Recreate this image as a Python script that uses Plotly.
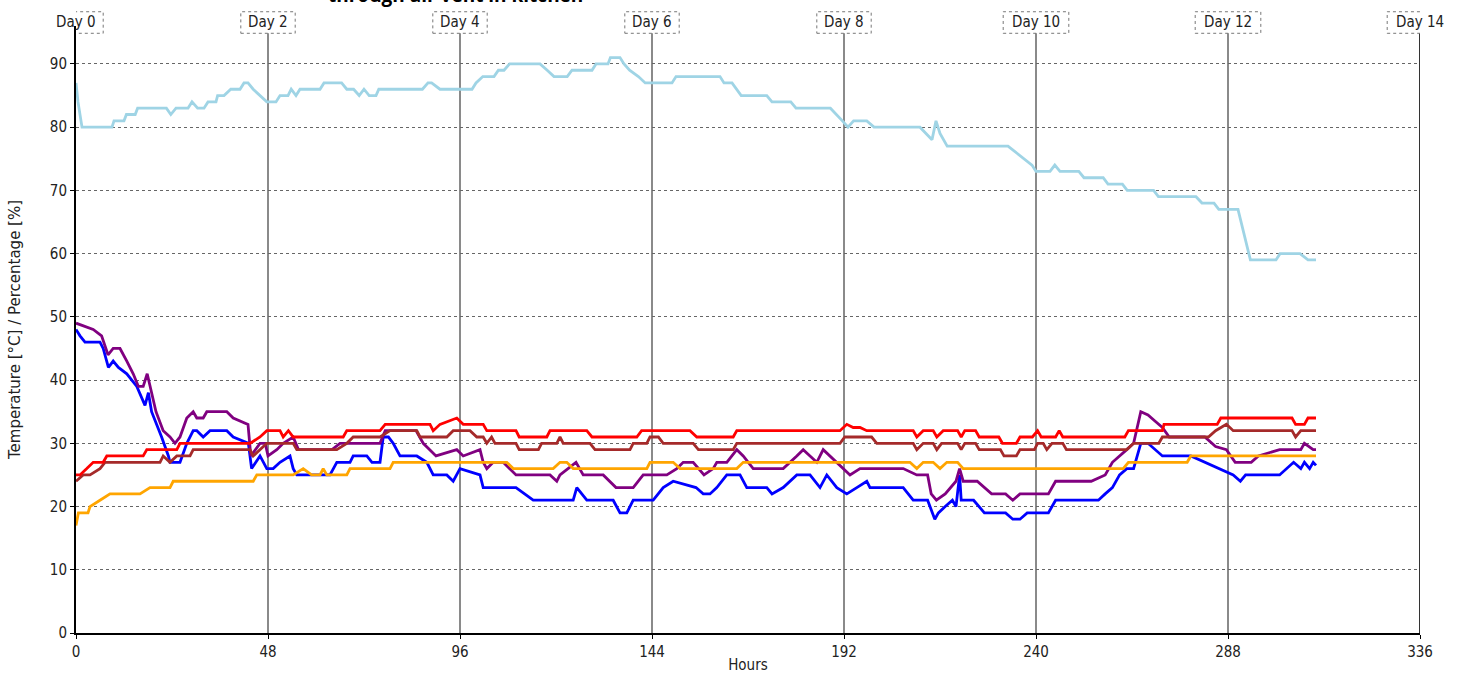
import plotly.graph_objects as go

# ---------------- data (hours, values) ----------------
rh_hours = [0, 0.5, 1.5, 9, 9.5, 12, 12.6, 14.8, 15.4, 22.6, 23.7, 25, 28, 29, 30.4, 32, 33, 35, 35.4, 37, 38.7, 41, 42, 43,
            44.3, 46, 47.7, 50, 51, 53, 53.8, 55, 56, 61, 62, 66.4, 67.7, 69.4, 70.8, 72, 73.3, 75, 75.7, 86.6, 88, 88.9,
            91, 99, 100, 101.7, 104.5, 105.6, 107, 108.4, 116, 117.8, 119.5, 122.8, 124, 129, 130, 133, 133.6, 136, 137,
            138.4, 140.6, 142.3, 149, 150, 161, 162, 164, 166.3, 172.7, 174, 178.7, 180, 188.6, 191.6, 193, 194.4, 197.7,
            199.5, 211, 212.5, 214, 215, 216, 217.8, 233, 239, 240, 243.5, 244.7, 246, 250.7, 252, 256.8, 258, 261.6,
            262.8, 269.4, 270.6, 280, 281.5, 284.5, 285.7, 290.5, 293.6, 300, 301, 306, 308, 310]
rh_values = [87, 84, 80, 80, 81, 81, 82, 82, 83, 83, 82, 83, 83, 84, 83, 83, 84, 84, 85, 85, 86, 86, 87, 87,
             86, 85, 84, 84, 85, 85, 86, 85, 86, 86, 87, 87, 86, 86, 85, 86, 85, 85, 86, 86, 87, 87,
             86, 86, 87, 88, 88, 89, 89, 90, 90, 89, 88, 88, 89, 89, 90, 90, 91, 91, 90,
             89, 88, 87, 87, 88, 88, 87, 87, 85, 85, 84, 84, 83, 83, 81, 80, 81, 81,
             80, 80, 79, 78, 81, 79, 77, 77, 74, 73, 73, 74, 73, 73, 72, 72, 71, 71,
             70, 70, 69, 69, 68, 68, 67, 67, 59, 59, 60, 60, 59, 59]

blue_hours = [0, 1, 2.25, 6, 6.8, 8.1, 9.3, 10.6, 12.7, 15.2, 17.25, 18.1, 18.9, 20.2, 21.4, 23.1, 23.5, 26, 27.7, 29.3,
              30.2, 31.8, 33.5, 37.7, 39.3, 43.1, 43.9, 46, 47.7, 49.3, 51, 53.5, 54.3, 55.2, 63.5, 65.2, 68.5, 69.3,
              72.7, 74, 76, 76.8, 78.1, 79.3, 81, 85.2, 87.7, 89.3, 92.7, 94.3, 96, 101, 101.8, 110, 114.3, 124.3,
              125.2, 127.7, 134.3, 136, 137.7, 139.3, 141.8, 144.3, 146.8, 149.3, 155, 156.8, 158.5, 160.2, 162.7,
              166, 167.7, 172.7, 174, 176.8, 180.2, 183.5, 186, 187.7, 190.2, 192.7, 195.2, 197.7, 198.5, 206.8,
              209.3, 212.9, 214.7, 215.6, 217.3, 219.1, 220, 220.9, 221.3, 224.4, 227.1, 232.4, 234.2, 236, 237.8,
              243.1, 244.9, 255.6, 257.3, 259.1, 260.9, 262.7, 264.4, 266.2, 268, 269.8, 271.6, 278.7, 282.2, 285.8,
              289.3, 291.1, 292.4, 300.9, 302.7, 304.4, 306.2, 307.1, 308.4, 309.3, 310]
blue_values = [48, 47, 46, 46, 45, 42, 43, 42, 41, 39, 36, 38, 35, 33, 31, 28, 27, 27, 30, 32,
               32, 31, 32, 32, 31, 30, 26, 28, 26, 26, 27, 28, 26, 25, 25, 27, 27, 28,
               28, 27, 27, 31, 31, 30, 28, 28, 27, 25, 25, 24, 26, 25, 23, 23, 21, 21,
               23, 21, 21, 19, 19, 21, 21, 21, 23, 24, 23, 22, 22, 23, 25,
               25, 23, 23, 22, 23, 25, 25, 23, 25, 23, 22, 23, 24, 23, 23,
               21, 21, 18, 19, 20, 21, 20, 25, 21, 21, 19, 19, 18, 18, 19,
               19, 21, 21, 22, 23, 25, 26, 26, 30, 30, 29, 28, 28, 27, 26,
               25, 24, 25, 25, 26, 27, 26, 27, 26, 27, 26.5]

purple_hours = [0, 4.3, 6.4, 8, 9.3, 11, 12.7, 14.3, 15.6, 16.8, 17.8, 18.5, 20, 21.8, 23.5, 24.75, 26, 27.7, 29.3, 30.2,
                31.8, 32.7, 37.7, 39.3, 43, 43.7, 46, 47.3, 48, 50.2, 51.8, 54.3, 55.6, 64, 66, 76, 77.3, 80.2, 85,
                86.8, 90, 95.2, 96.8, 101, 101.8, 102.7, 104.3, 106.8, 110, 118.5, 120.2, 121, 125, 126.8, 131.8, 135,
                139.3, 141.8, 147.7, 150.2, 151.8, 154.3, 157, 159.3, 160.2, 162.7, 165.2, 166.8, 169.3, 173.5, 176.8,
                180.2, 181.8, 183.5, 185.2, 186.8, 188.5, 191.8, 193.5, 196, 206.8, 210.2, 212.9, 213.8, 215.1, 217.3,
                220, 220.9, 221.8, 225.3, 228.9, 232.4, 234.2, 236, 243.1, 244.9, 253.8, 257.3, 259.1, 262.7, 264.4,
                266.2, 268, 269.8, 271.6, 273.3, 282.2, 284.9, 287.6, 289.8, 293.8, 295.6, 300.9, 306.2, 307.1, 309.3,
                310]
purple_values = [49, 48, 47, 44, 45, 45, 43, 41, 39, 39, 41, 39, 35, 32, 31, 30, 31, 34, 35, 34,
                 34, 35, 35, 34, 33, 28, 30, 30, 28, 29, 30, 31, 29, 29, 30, 30, 32, 32, 32,
                 30, 28, 29, 28, 29, 27, 26, 27, 27, 25, 25, 24, 25, 27, 25, 25, 23,
                 23, 25, 25, 26, 27, 27, 25, 26, 27, 27, 29, 28, 26, 26, 26,
                 28, 29, 28, 27, 29, 28, 26, 25, 26, 26, 25, 25, 22, 21, 22,
                 24, 26, 24, 24, 22, 22, 21, 22, 22, 24, 24, 25, 27, 29, 30,
                 35, 34.5, 33.5, 32.5, 31, 31, 29.5, 29, 27, 27, 28, 29, 29, 30, 29,
                 29]

red_hours = [0, 1, 2.7, 4.3, 6.8, 7.7, 16.8, 17.7, 25.2, 26, 43.5, 46, 47.7, 51, 51.8, 53.1, 54.3, 66.8, 67.7, 76, 77.3,
             88.5, 89.3, 91, 95.2, 96.8, 101.8, 102.7, 110, 110.8, 117.7, 118.5, 127.7, 129, 140.2, 141.4, 153.5, 155.2,
             164.3, 165.2, 191, 192.7, 194.3, 196, 197.7, 209.3, 210.2, 211.8, 214.3, 215.2, 216.8, 220.4, 221.3,
             222.2, 224.9, 225.8, 230.7, 231.6, 235.1, 236, 239.1, 240.4, 241.3, 244.9, 245.8, 246.7, 262.2, 263.1,
             271.6, 272, 285.3, 286.2, 304, 304.9, 307.1, 308, 310]
red_values = [25, 25, 26, 27, 27, 28, 28, 29, 29, 30, 30, 31, 32, 32, 31, 32, 31, 31, 32, 32, 33,
              33, 32, 33, 34, 33, 33, 32, 32, 31, 31, 32, 32, 31, 31, 32, 32, 31,
              31, 32, 32, 33, 32.5, 32.5, 32, 32, 31, 32, 32, 31, 32, 32, 31,
              32, 32, 31, 31, 30, 30, 31, 31, 32, 31, 31, 32, 31, 31, 32,
              32, 33, 33, 34, 34, 33, 33, 34, 34]

brown_hours = [0, 1.8, 3.5, 6, 7.25, 21, 21.8, 23.5, 25.2, 28.5, 29.3, 43.5, 44.3, 46, 47.7, 54.3, 55.2, 65.2, 67.7, 69.3,
               76, 78.5, 85.2, 86, 92.7, 94.3, 98.5, 100.2, 101.8, 102.7, 103.9, 104.75, 110, 110.8, 115.6, 116.4, 120.2,
               121, 121.8, 128.5, 129.75, 138.5, 139.3, 142.7, 143.5, 145.6, 146.8, 154.3, 155.6, 164.3, 165.2, 191,
               192.2, 198.9, 200.2, 209.3, 210.2, 211.8, 214.3, 215.2, 216.4, 220.4, 221.3, 222.2, 224.9, 225.8, 231.1,
               232, 235.1, 236, 239.6, 240.4, 241.8, 242.7, 244, 246.7, 247.6, 262.7, 264.4, 270.7, 271.6, 283.1, 284.9,
               287.6, 289.3, 304, 304.9, 306.2, 310]
brown_values = [24, 25, 25, 26, 27, 27, 28, 27, 28, 28, 29, 29, 28, 29, 30, 30, 29, 29, 30, 31,
                31, 32, 32, 31, 31, 32, 32, 31, 31, 30, 31, 30, 30, 29, 29, 30, 30,
                31, 30, 30, 29, 29, 30, 30, 31, 31, 30, 30, 29, 29, 30, 30,
                31, 31, 30, 30, 29, 30, 30, 29, 30, 30, 29, 30, 30, 29, 29,
                28, 28, 29, 29, 30, 30, 29, 30, 30, 29, 29, 30, 30, 31, 31, 32,
                33, 32, 32, 31, 32, 32]

orange_hours = [0, 0.6, 3, 3.5, 6, 8.5, 16, 18.5, 23.5, 24.3, 44.3, 45.2, 54.3, 56.8, 58.9, 61, 61.8, 62.7, 67.7, 68.5,
                78.5, 79.3, 107.7, 109.3, 119.3, 121, 122.7, 124.3, 142.7, 143.5, 149.3, 151, 165.2, 166.8, 208.5, 210.2,
                211.8, 214.3, 216, 217.7, 220.4, 221.8, 261.8, 263.1, 277.8, 278.7, 310]
orange_values = [17, 19, 19, 20, 21, 22, 22, 23, 23, 24, 24, 25, 25, 26, 25, 25, 26, 25, 25, 26,
                 26, 27, 27, 26, 26, 27, 27, 26, 26, 27, 27, 26, 26, 27, 27, 26,
                 27, 27, 26, 27, 27, 26, 26, 27, 27, 28, 28]

x_ticks = [0, 48, 96, 144, 192, 240, 288, 336]
y_ticks = [0, 10, 20, 30, 40, 50, 60, 70, 80, 90]
day_labels = ["Day 0", "Day 2", "Day 4", "Day 6", "Day 8", "Day 10", "Day 12", "Day 14"]

series = [
    ("Humidity", rh_hours, rh_values, "#9fd4e5"),
    ("Sensor 1", blue_hours, blue_values, "#0000ff"),
    ("Sensor 2", purple_hours, purple_values, "#800080"),
    ("Sensor 3", brown_hours, brown_values, "#a52a2a"),
    ("Sensor 4", red_hours, red_values, "#ff0000"),
    ("Sensor 5", orange_hours, orange_values, "#ffa500"),
]

fig = go.Figure()
for name, xs, ys, col in series:
    fig.add_trace(go.Scatter(x=xs, y=ys, mode="lines", name=name,
                             line=dict(color=col, width=2.8), showlegend=False))

tick_font = dict(family="DejaVu Sans Condensed, DejaVu Sans, sans-serif", size=15, color="#222")
label_font = dict(family="DejaVu Sans Condensed, DejaVu Sans, sans-serif", size=15, color="#222")

# right border line at last tick
fig.add_shape(type="line", xref="x", yref="paper", x0=x_ticks[-1], x1=x_ticks[-1], y0=0, y1=1.02,
              line=dict(color="#333", width=2), layer="above")

# day label boxes
for xv, lab in zip(x_ticks, day_labels):
    half = 6.8 if len(lab) <= 5 else 8.2
    fig.add_shape(type="rect", xref="x", yref="paper", x0=xv - half, x1=xv + half,
                  y0=0.988, y1=1.0235, line=dict(color="#777", width=1, dash="dot"),
                  fillcolor="white", layer="above")
    fig.add_annotation(x=xv, y=1.0058, xref="x", yref="paper", text=lab, showarrow=False,
                       font=label_font, yanchor="middle", xanchor="center")

# title (partly cut at the top edge, as in the reference)
fig.add_annotation(x=(455 - 76) / (1420 - 76), y=1.026, xref="paper", yref="paper",
                   text="<b>through air vent in kitchen</b>", showarrow=False,
                   font=dict(family="Open Sans, sans-serif", size=19, color="black"),
                   xanchor="center", yanchor="bottom")

fig.update_layout(
    width=1459, height=674,
    margin=dict(l=76, r=39, t=26, b=41),
    paper_bgcolor="white", plot_bgcolor="white",
    xaxis=dict(range=[0, 336], tickvals=x_ticks, ticks="outside", ticklen=4, tickcolor="black",
               showgrid=True, gridcolor="#8a8a8a", gridwidth=2, zeroline=False,
               showline=True, linecolor="black", linewidth=2, tickfont=tick_font,
               title=dict(text="Hours", font=label_font, standoff=4), automargin=False),
    yaxis=dict(range=[0, 96], tickvals=y_ticks, ticks="outside", ticklen=4, tickcolor="black",
               showgrid=True, gridcolor="#666", gridwidth=1, griddash="dot", zeroline=False,
               showline=True, linecolor="black", linewidth=2, tickfont=tick_font,
               title=dict(text="Temperature [°C] / Percentage [%]",
                          font=dict(family="DejaVu Sans, sans-serif", size=15, color="#222"), standoff=26),
               automargin=False),
)

fig.write_html("out.html", config={"displayModeBar": False},
               post_script="document.body.style.margin='0px';")
